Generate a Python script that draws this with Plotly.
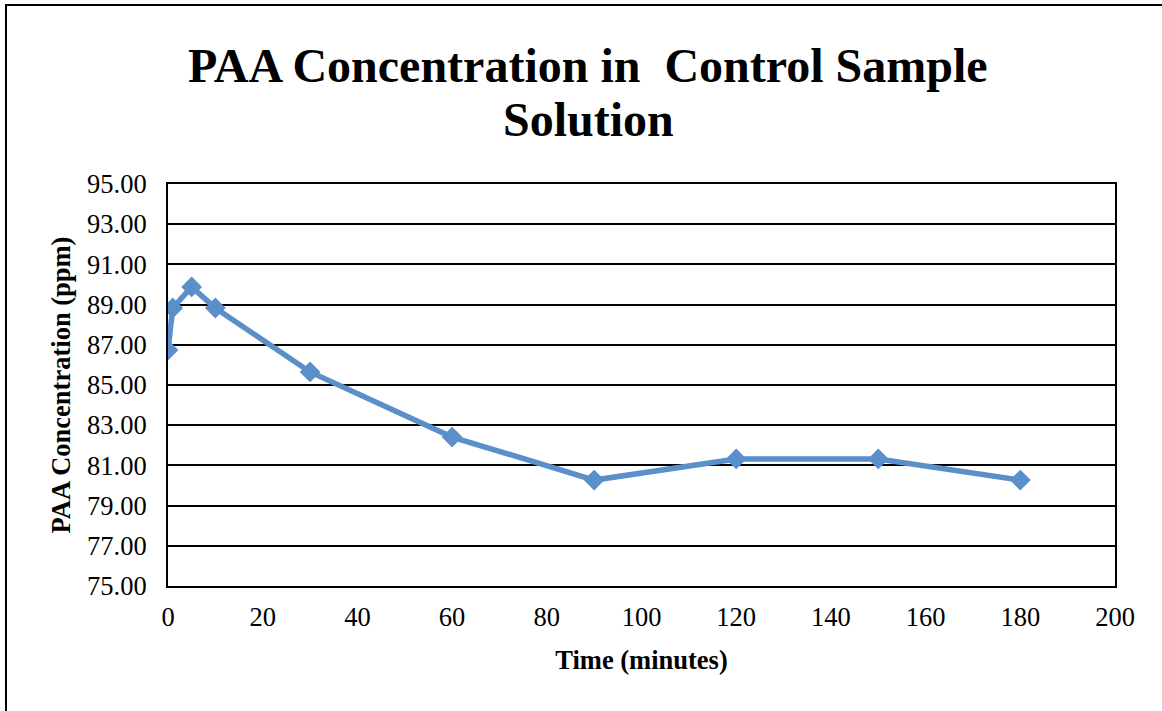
import plotly.graph_objects as go

time_min = [0, 1, 5, 10, 30, 60, 90, 120, 150, 180]
paa_ppm = [86.74, 88.83, 89.88, 88.83, 85.65, 82.41, 80.27, 81.32, 81.32, 80.27]

title_lines = ["PAA Concentration in  Control Sample", "Solution"]
x_title = "Time (minutes)"
y_title = "PAA Concentration (ppm)"

FONT = "Liberation Serif, Times New Roman, serif"
W, H = 1162, 711
L, R, T, B = 168, 47, 184, 125
pw, ph = W - L - R, H - T - B

fig = go.Figure()
fig.add_trace(go.Scatter(
    x=time_min, y=paa_ppm, mode="lines+markers",
    line=dict(color="#5A8FCA", width=5.5),
    marker=dict(symbol="diamond", size=16, color="#5A8FCA"),
    showlegend=False,
))

fig.update_layout(
    width=W, height=H,
    margin=dict(l=L, r=R, t=T, b=B),
    paper_bgcolor="white", plot_bgcolor="white",
    font=dict(family=FONT, color="black"),
    xaxis=dict(range=[0, 200], dtick=20, tick0=0, showgrid=False,
               showline=True, linecolor="black", linewidth=2, mirror=True,
               ticks="", tickfont=dict(size=26.5), zeroline=False, ticklabelstandoff=6,
               title=dict(text=x_title, font=dict(size=26.5, weight="bold"), standoff=20)),
    yaxis=dict(range=[75, 95], dtick=2, tick0=75, tickformat=".2f",
               showgrid=True, gridcolor="black", gridwidth=1.5,
               showline=True, linecolor="black", linewidth=2, mirror=True,
               ticks="", tickfont=dict(size=26.5), zeroline=False, ticklabelstandoff=14,
               title=dict(text=y_title, font=dict(size=26.5, weight="bold"), standoff=9)),
)

title_centers_px = [66, 119]
for line, cy in zip(title_lines, title_centers_px):
    fig.add_annotation(text=f"<b>{line}</b>", xref="paper", yref="paper",
                       x=(588 - L) / pw, y=(H - B - cy) / ph,
                       xanchor="center", yanchor="middle", showarrow=False,
                       font=dict(family=FONT, size=48, color="black"))

fig.add_shape(type="rect", xref="paper", yref="paper",
              x0=(6 - L) / pw, x1=(W + 20 - L) / pw,
              y0=-(B + 20) / ph, y1=(H - B - 5) / ph,
              line=dict(color="black", width=2), fillcolor="rgba(0,0,0,0)", layer="above")

fig.write_html("out.html", config={"displayModeBar": False},
               post_script="document.body.style.margin='0';")
